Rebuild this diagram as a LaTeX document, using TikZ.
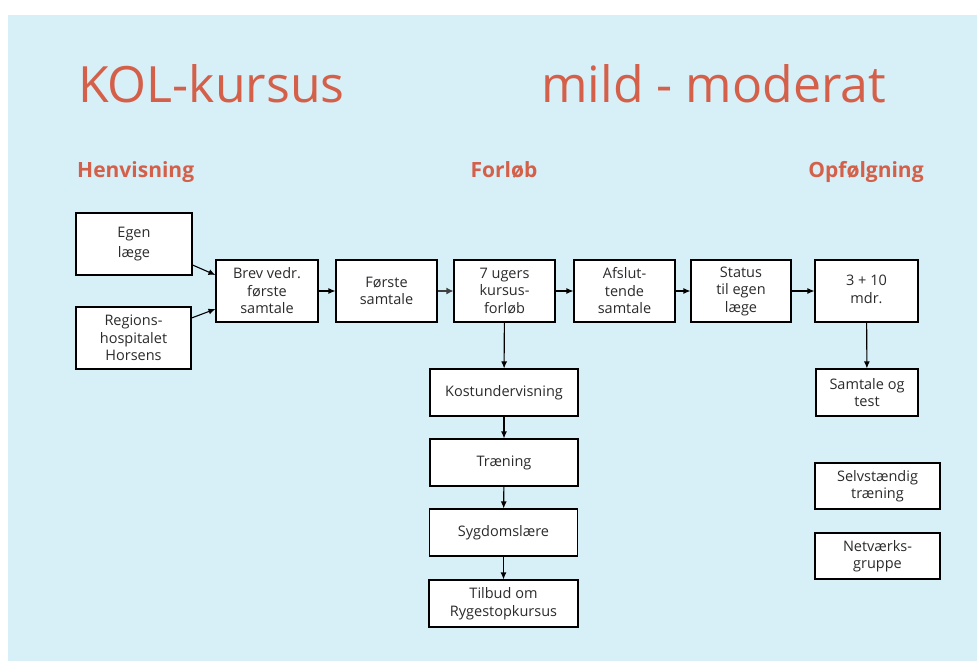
\documentclass[tikz,border=0pt]{standalone}
\usepackage{fontspec}
\setmainfont{Open Sans}
\usetikzlibrary{arrows.meta}
\definecolor{bgblue}{HTML}{D7EFF7}
\definecolor{titlered}{HTML}{D4604A}
\definecolor{boxtext}{HTML}{2B2B2B}
\tikzset{
  box/.style={draw=black, line width=1.1pt, fill=white, rectangle, align=center,
    inner sep=0pt, text=boxtext, font=\fontsize{14.5}{17.5}\selectfont},
  arr/.style={-{Latex[length=7pt,width=6pt]}, line width=1.1pt, black},
  head/.style={text=titlered, font=\fontsize{21}{24}\selectfont\bfseries, inner sep=0pt},
  ttl/.style={text=titlered, font=\fontsize{50}{56}\selectfont, inner sep=0pt}
}
\begin{document}
\begin{tikzpicture}[x=1pt,y=-1pt]
\useasboundingbox (0,0) rectangle (977,661);
\fill[bgblue] (8,15) rectangle (977,661);
% titles
\node[ttl, anchor=base west] (t1) at (78,102) {KOL-kursus};
\node[ttl, anchor=base west] (t2) at (541,102) {mild - moderat};
% headers
\node[head, anchor=base west] (h1) at (77,177) {Henvisning};
\node[head, anchor=base] (h2) at (504,177) {Forløb};
\node[head, anchor=base] (h3) at (866,177) {Opfølgning};
% boxes
\node[box, minimum width=116pt, minimum height=62pt] (egen) at (134,244) {Egen\\[2pt]læge};
\node[box, minimum width=115pt, minimum height=62pt] (reg) at (133.5,338) {Regions-\\hospitalet\\Horsens};
\node[box, minimum width=102pt, minimum height=62pt] (brev) at (267,291) {Brev vedr.\\første\\samtale};
\node[box, minimum width=101pt, minimum height=62pt] (forste) at (386.5,291) {Første\\samtale};
\node[box, minimum width=101pt, minimum height=62pt] (ugers) at (504.5,291) {7 ugers\\kursus-\\forløb};
\node[box, minimum width=101pt, minimum height=62pt] (afsl) at (624.5,291) {Afslut-\\tende\\samtale};
\node[box, minimum width=100pt, minimum height=62pt] (status) at (741,291) {Status\\til egen\\læge};
\node[box, minimum width=103pt, minimum height=62pt, text depth=4pt] (mdr) at (866.5,291) {3 + 10\\mdr.};
\node[box, minimum width=102pt, minimum height=47pt] (samt) at (867,392.5) {Samtale og\\test};
\node[box, minimum width=148pt, minimum height=47pt] (kost) at (504,392.5) {Kostundervisning};
\node[box, minimum width=148pt, minimum height=47pt] (tr) at (504,462.5) {Træning};
\node[box, minimum width=148pt, minimum height=47pt] (syg) at (503.5,532.5) {Sygdomslære};
\node[box, minimum width=149pt, minimum height=47pt] (tilb) at (503.5,603.5) {Tilbud om\\Rygestopkursus};
\node[box, minimum width=125pt, minimum height=46pt] (selv) at (877.5,486) {Selvstændig\\træning};
\node[box, minimum width=125pt, minimum height=46pt] (netv) at (877.5,556) {Netværks-\\gruppe};
% connectors
\draw[arr] (egen.east |- 0,265) -- (brev.west |- 0,275);
\draw[arr] (reg.east |- 0,318) -- (brev.west |- 0,309);
\draw[arr] (brev) -- (forste);
\draw[arr, draw=black!75, line width=2.2pt, -{Latex[length=7pt,width=7pt]}] (forste) -- (ugers);
\draw[arr] (ugers) -- (afsl);
\draw[arr] (afsl) -- (status);
\draw[arr] (status) -- (mdr);
\draw[arr] (ugers) -- (kost);
\draw[arr] (kost) -- (tr);
\draw[arr] (tr) -- (syg);
\draw[arr] (syg) -- (tilb);
\draw[arr] (mdr) -- (samt);
\end{tikzpicture}
\end{document}
